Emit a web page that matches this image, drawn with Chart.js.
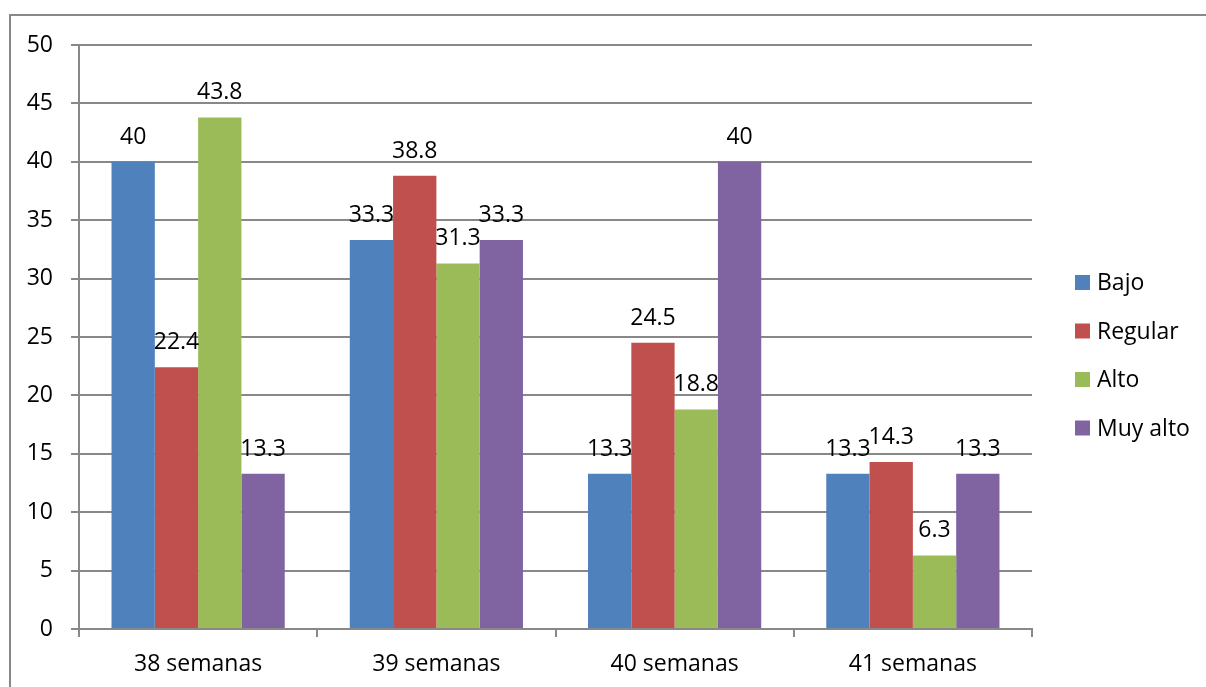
<!DOCTYPE html>
<html>
<head>
<meta charset="utf-8">
<script src="https://cdn.jsdelivr.net/npm/chart.js@4.4.1/dist/chart.umd.min.js"></script>
<style>
  html, body { margin: 0; padding: 0; background: #fff; }
  #wrap { position: relative; width: 1206px; height: 687px; overflow: hidden; }
  #frame { position: absolute; left: 9px; top: 14px; width: 1300px; height: 800px;
           border-left: 2px solid #888; border-top: 2px solid #888; box-sizing: border-box; }
  canvas { position: absolute; left: 0; top: 0; }
</style>
</head>
<body>
<div id="wrap">
  <div id="frame"></div>
  <canvas id="c" width="1206" height="687"></canvas>
</div>
<script>
// Gestational age groups and the share (%) of each level per group
const categories = ['38 semanas', '39 semanas', '40 semanas', '41 semanas'];
const seriesNames = ['Bajo', 'Regular', 'Alto', 'Muy alto'];
const bajo = [40, 33.3, 13.3, 13.3];
const regular = [22.4, 38.8, 24.5, 14.3];
const alto = [43.8, 31.3, 18.8, 6.3];
const muyAlto = [13.3, 33.3, 40, 13.3];
const yTicks = [0, 5, 10, 15, 20, 25, 30, 35, 40, 45, 50];

const colors = ['#4F81BD', '#C0504D', '#9BBB59', '#8064A2'];
const FONT = "'Open Sans', sans-serif";
const FONT_SIZE = 23;

// value labels above each bar
const valueLabels = {
  id: 'valueLabels',
  afterDatasetsDraw(chart) {
    const ctx = chart.ctx;
    ctx.save();
    ctx.font = FONT_SIZE + 'px ' + FONT;
    ctx.fillStyle = '#000';
    ctx.textAlign = 'center';
    ctx.textBaseline = 'alphabetic';
    chart.data.datasets.forEach((ds, di) => {
      const meta = chart.getDatasetMeta(di);
      meta.data.forEach((bar, i) => {
        ctx.fillText(String(ds.data[i]), bar.x, bar.y - 18);
      });
    });
    ctx.restore();
  }
};

// legend on the right side of the plot
const sideLegend = {
  id: 'sideLegend',
  afterDraw(chart) {
    const ctx = chart.ctx;
    const area = chart.chartArea;
    ctx.save();
    ctx.font = FONT_SIZE + 'px ' + FONT;
    ctx.textBaseline = 'middle';
    ctx.textAlign = 'left';
    chart.data.datasets.forEach((ds, i) => {
      const cy = 282.5 + i * 48.5;
      const x = area.right + 43;
      ctx.fillStyle = ds.backgroundColor;
      ctx.fillRect(x, cy - 7.5, 15, 15);
      ctx.fillStyle = '#000';
      ctx.fillText(ds.label, x + 22, cy + 1);
    });
    ctx.restore();
  }
};

const seriesValues = [bajo, regular, alto, muyAlto];

new Chart(document.getElementById('c'), {
  type: 'bar',
  data: {
    labels: categories,
    datasets: seriesNames.map((name, i) => ({
      label: name,
      data: seriesValues[i],
      backgroundColor: colors[i],
      borderWidth: 0,
      categoryPercentage: 0.727,
      barPercentage: 1
    }))
  },
  options: {
    responsive: false,
    animation: false,
    devicePixelRatio: 1,
    layout: { padding: { top: 45, right: 174, left: 0, bottom: 0 } },
    plugins: { legend: { display: false }, tooltip: { enabled: false } },
    scales: {
      x: {
        offset: true,
        grid: { drawOnChartArea: false, drawTicks: true, tickLength: 8, color: '#888', lineWidth: 2, offset: true },
        border: { color: '#888', width: 2 },
        ticks: { color: '#000', font: { family: FONT, size: FONT_SIZE }, padding: 14 },
        afterFit(s) { s.height = 58; }
      },
      y: {
        min: 0,
        max: 50,
        afterBuildTicks(s) { s.ticks = yTicks.map(v => ({ value: v })); },
        grid: { color: '#888', lineWidth: 2, tickLength: 8 },
        border: { color: '#888', width: 2 },
        ticks: { color: '#000', font: { family: FONT, size: FONT_SIZE }, padding: 18 },
        afterFit(s) { s.width = 79; }
      }
    }
  },
  plugins: [valueLabels, sideLegend]
});
</script>
</body>
</html>
